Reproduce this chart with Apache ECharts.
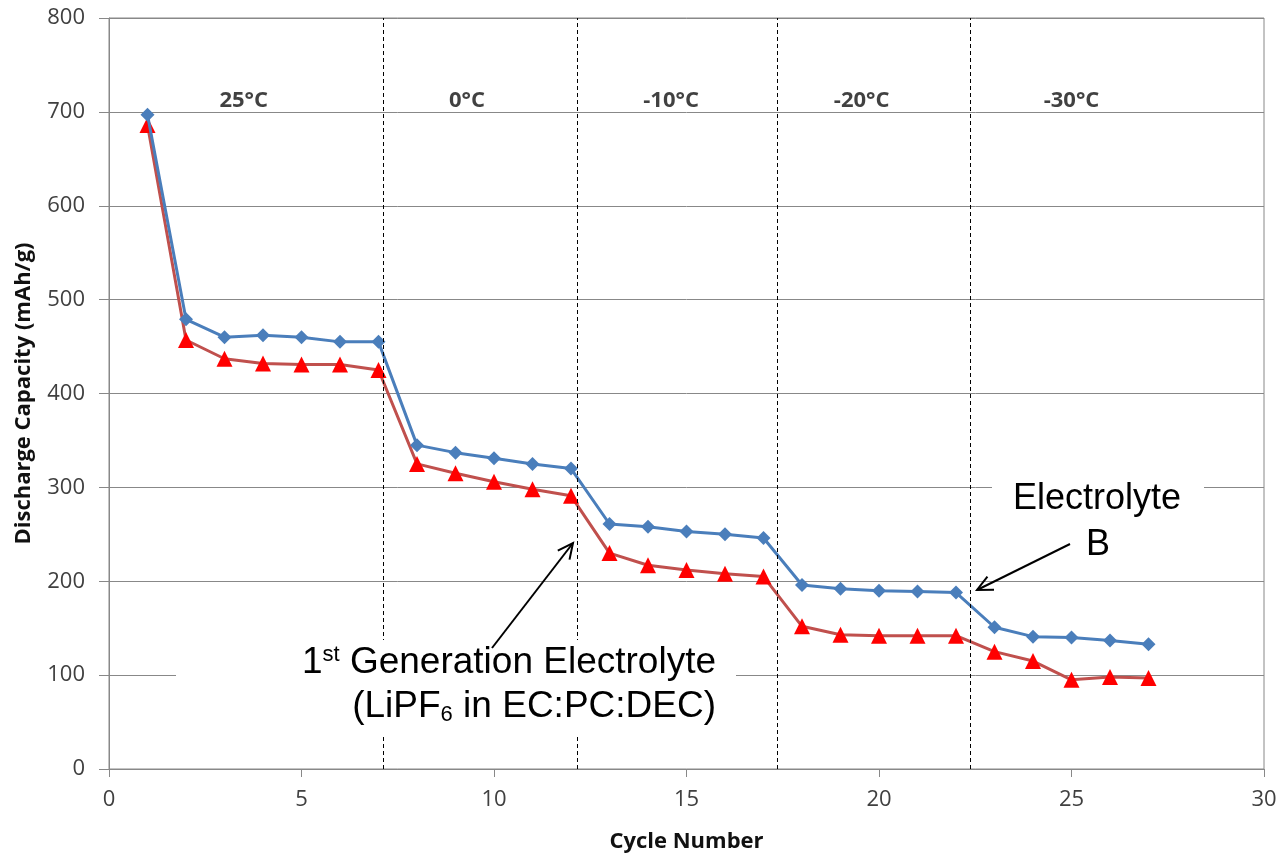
<!DOCTYPE html>
<html><head><meta charset="utf-8">
<script src="https://cdn.jsdelivr.net/npm/echarts@6/dist/echarts.min.js"></script>
<style>html,body{margin:0;padding:0;background:#fff}#c{width:1283px;height:858px}</style>
</head><body><div id="c"></div>
<script>
const cycles = [1,2,3,4,5,6,7,8,9,10,11,12,13,14,15,16,17,18,19,20,21,22,23,24,25,26,27];
const electrolyteB = [697,479,460,462,460,455,455,345,337,331,325,320,261,258,253,250,246,196,192,190,189,188,151,141,140,137,133];
const firstGen = [686,457,437,432,431,431,425,325,315,306,298,291,230,217,212,208,205,152,143,142,142,142,125,115,95,98,97];
const boundaries = [7.12, 12.16, 17.35, 22.36];
const tempLabels = ['25°C','0°C','-10°C','-20°C','-30°C'];
const tempLabelX = [3.5, 9.3, 14.6, 19.55, 25.0];

const chart = echarts.init(document.getElementById('c'));
const axisFont = {fontFamily:'Open Sans', fontSize:22, color:'#404040'};

function arrow(x1,y1,x2,y2){
  const dx=x2-x1, dy=y2-y1, L=Math.hypot(dx,dy), ux=dx/L, uy=dy/L;
  const h=17, a=0.45;
  const c=Math.cos(a), s=Math.sin(a);
  const b1=[x2-h*(ux*c-uy*s), y2-h*(uy*c+ux*s)];
  const b2=[x2-h*(ux*c+uy*s), y2-h*(uy*c-ux*s)];
  return [
    {type:'line', shape:{x1,y1,x2,y2}, style:{stroke:'#000', lineWidth:2}, z:100},
    {type:'polyline', shape:{points:[b1,[x2,y2],b2]}, style:{stroke:'#000', lineWidth:2, fill:null}, z:100}
  ];
}

const big = {fontFamily:'Liberation Sans', fontSize:37, color:'#000', lineHeight:44};
const small = {fontFamily:'Liberation Sans', fontSize:22, color:'#000', lineHeight:44};
const graphics = [];
graphics.push({type:'rect', shape:{x:176,y:640,width:560,height:96}, style:{fill:'#fff'}, z:50});
graphics.push({type:'rect', shape:{x:992,y:474,width:212,height:98}, style:{fill:'#fff'}, z:50});
graphics.push({type:'text', x:716, y:663, z:101, style:{
  text:'{n|1}{sup|st}{n| Generation Electrolyte}', align:'right', verticalAlign:'middle', rich:{
    n:big, sup:Object.assign({}, small, {padding:[0,0,16,0]})
  }}});
graphics.push({type:'text', x:716, y:707, z:101, style:{
  text:'{n|(LiPF}{sub|6}{n| in EC:PC:DEC)}', align:'right', verticalAlign:'middle', rich:{
    n:big, sub:Object.assign({}, small, {padding:[16,0,0,0]})
  }}});
graphics.push({type:'text', x:1097, y:499, z:101, style:{text:'Electrolyte', fontFamily:'Liberation Sans', fontSize:36, fill:'#000', align:'center', verticalAlign:'middle'}});
graphics.push({type:'text', x:1098, y:545, z:101, style:{text:'B', fontFamily:'Liberation Sans', fontSize:36, fill:'#000', align:'center', verticalAlign:'middle'}});
graphics.push(...arrow(492,648,573,543));
graphics.push(...arrow(1070,544,977,590));

chart.setOption({
  animation:false,
  grid:{left:109, right:19, top:18, bottom:86, show:true, borderColor:'#888', borderWidth:1},
  xAxis:{type:'value', min:0, max:30, interval:5,
    axisLine:{onZero:false, lineStyle:{color:'#888'}}, axisTick:{show:true, length:8, lineStyle:{color:'#888'}},
    axisLabel:Object.assign({margin:20}, axisFont), splitLine:{show:false},
    name:'Cycle Number', nameLocation:'middle', nameGap:62,
    nameTextStyle:{fontFamily:'Open Sans', fontWeight:'bold', fontSize:22, color:'#111'}},
  yAxis:{type:'value', min:0, max:800, interval:100,
    axisLine:{show:true, lineStyle:{color:'#888'}}, axisTick:{show:true, length:10, lineStyle:{color:'#888'}},
    axisLabel:Object.assign({margin:24}, axisFont),
    splitLine:{show:true, lineStyle:{color:'#888', width:1}},
    name:'Discharge Capacity (mAh/g)', nameLocation:'middle', nameGap:74,
    nameTextStyle:{fontFamily:'Open Sans', fontWeight:'bold', fontSize:22, color:'#111'}},
  series:[
    {name:'1st Generation', type:'line', data:cycles.map((c,i)=>[c, firstGen[i]]),
      symbol:'triangle', symbolSize:16, itemStyle:{color:'#ff0000'}, lineStyle:{color:'#c0504d', width:3}, z:3,
      markLine:{silent:true, symbol:'none', lineStyle:{color:'#000', type:[4,3], width:1},
        label:{show:false}, data:boundaries.map(b=>({xAxis:b}))}},
    {name:'Electrolyte B', type:'line', data:cycles.map((c,i)=>[c, electrolyteB[i]]),
      symbol:'diamond', symbolSize:14, itemStyle:{color:'#4a7ebb'}, lineStyle:{color:'#4a7ebb', width:3}, z:4},
    {name:'temps', type:'scatter', data:tempLabels.map((t,i)=>[tempLabelX[i], 712, t]), symbolSize:0, silent:true,
      label:{show:true, formatter:p=>p.data[2], position:'inside', fontFamily:'Open Sans', fontWeight:'bold', fontSize:22, color:'#111'}}
  ],
  graphic:graphics
});
</script></body></html>
